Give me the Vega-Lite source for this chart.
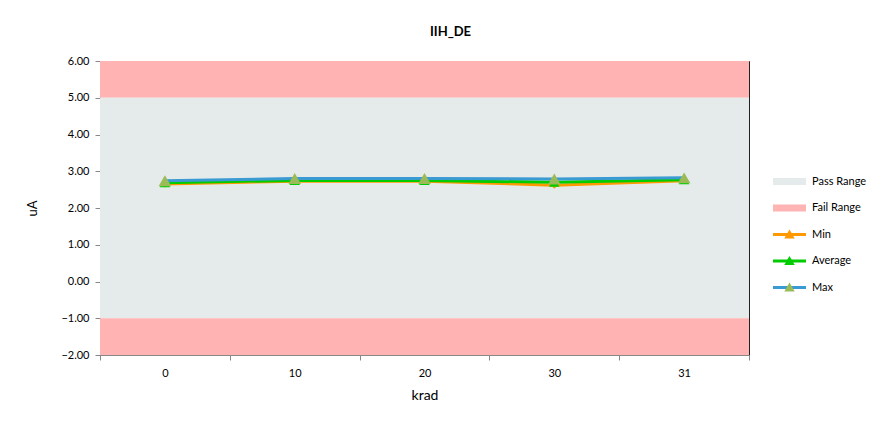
{
  "$schema": "https://vega.github.io/schema/vega-lite/v6.json",
  "width": 649,
  "height": 294,
  "autosize": {"type": "none"},
  "padding": {"left": 100, "top": 61, "right": 141, "bottom": 67},
  "background": "white",
  "config": {
    "font": "Lato",
    "view": {"stroke": "#222", "strokeWidth": 1},
    "axis": {
      "labelFont": "Lato", "titleFont": "Lato", "labelFontSize": 11, "labelColor": "#000",
      "titleColor": "#000", "titleFontWeight": "normal", "tickColor": "#888", "domainColor": "#888",
      "grid": false, "tickSize": 5, "labelOverlap": false
    }
  },
  "title": {"text": "IIH_DE", "font": "Lato", "fontSize": 13, "fontWeight": "bold", "color": "#000", "anchor": "middle", "dx": 26, "offset": 16},
  "datasets": {
    "ranges": [
      {"series": "Fail Range", "lo": 5, "hi": 6},
      {"series": "Pass Range", "lo": -1, "hi": 5},
      {"series": "Fail Range", "lo": -2, "hi": -1}
    ],
    "meas": [
      {"series": "Min", "krad": "0", "value": 2.65},
      {"series": "Min", "krad": "10", "value": 2.73},
      {"series": "Min", "krad": "20", "value": 2.73},
      {"series": "Min", "krad": "30", "value": 2.62},
      {"series": "Min", "krad": "31", "value": 2.74},
      {"series": "Average", "krad": "0", "value": 2.69},
      {"series": "Average", "krad": "10", "value": 2.75},
      {"series": "Average", "krad": "20", "value": 2.75},
      {"series": "Average", "krad": "30", "value": 2.70},
      {"series": "Average", "krad": "31", "value": 2.77},
      {"series": "Max", "krad": "0", "value": 2.74},
      {"series": "Max", "krad": "10", "value": 2.80},
      {"series": "Max", "krad": "20", "value": 2.80},
      {"series": "Max", "krad": "30", "value": 2.79},
      {"series": "Max", "krad": "31", "value": 2.82}
    ]
  },
  "layer": [
    {
      "data": {"name": "ranges"},
      "mark": {"type": "rect"},
      "encoding": {
        "y": {
          "field": "lo", "type": "quantitative",
          "scale": {"domain": [-2, 6], "nice": false, "zero": false},
          "axis": {"values": [-2, -1, 0, 1, 2, 3, 4, 5, 6], "tickCount": 9, "labelOverlap": false, "format": ".2f", "title": "uA", "labelPadding": 6, "titleFontSize": 13, "titlePadding": 21}
        },
        "y2": {"field": "hi"},
        "color": {
          "field": "series", "type": "nominal",
          "scale": {"domain": ["Pass Range", "Fail Range", "Min", "Average", "Max"], "range": ["#E5EBEB", "#FFB3B3", "#FF9900", "#00CC00", "#3A9AD2"]},
          "legend": {
            "orient": "none", "legendX": 684, "legendY": 115, "title": null, "padding": 0,
            "rowPadding": 14.5, "symbolSize": 100, "labelOffset": 17, "labelFont": "Lato", "labelFontSize": 11, "labelColor": "#000",
            "encode": {"symbols": {"update": {
              "shape": {"signal": "indexof(['Pass Range','Fail Range'], datum.value) >= 0 ? 'M-3.3,-0.7H3.3V0.7H-3.3Z' : 'M-3.3,-0.28H3.3V0.28H-3.3Z'"},
              "fill": {"signal": "scale('color', datum.value)"},
              "strokeWidth": {"value": 0},
              "opacity": {"value": 1}
            }}}
          }
        }
      }
    },
    {
      "data": {"name": "meas"},
      "mark": {"type": "line", "strokeWidth": 3},
      "encoding": {
        "x": {
          "field": "krad", "type": "ordinal", "sort": ["0", "10", "20", "30", "31"],
          "scale": {"type": "band", "paddingInner": 0, "paddingOuter": 0},
          "axis": {"title": "krad", "labelAngle": 0, "tickBand": "extent", "labelPadding": 7, "titleFontSize": 14, "titlePadding": 10}
        },
        "y": {"field": "value", "type": "quantitative", "axis": {"values": [-2, -1, 0, 1, 2, 3, 4, 5, 6], "tickCount": 9, "labelOverlap": false, "format": ".2f", "title": "uA", "labelPadding": 6, "titleFontSize": 13, "titlePadding": 21}},
        "color": {"field": "series", "type": "nominal"}
      }
    },
    {
      "data": {"name": "meas"},
      "mark": {"type": "point", "filled": true, "opacity": 1, "strokeWidth": 0, "shape": "diamond", "size": 50},
      "transform": [{"filter": "datum.series == 'Min'"}],
      "encoding": {
        "x": {"field": "krad", "type": "ordinal", "sort": ["0", "10", "20", "30", "31"]},
        "y": {"field": "value", "type": "quantitative", "axis": {"values": [-2, -1, 0, 1, 2, 3, 4, 5, 6], "tickCount": 9, "labelOverlap": false, "format": ".2f", "title": "uA", "labelPadding": 6, "titleFontSize": 13, "titlePadding": 21}},
        "fill": {
          "field": "series", "type": "nominal",
          "scale": {"domain": ["Min", "Average", "Max"], "range": ["#FF9900", "#00CC00", "#9BBB59"]},
          "legend": {
            "orient": "none", "legendX": 684, "legendY": 167.5, "title": null, "padding": 0,
            "rowPadding": 14.5, "symbolSize": 110, "symbolType": "triangle-up", "symbolStrokeWidth": 0, "labelOffset": 17, "labelFontSize": 11, "labelOpacity": 0, "labelExpr": "''",
            "encode": {"symbols": {"update": {
              "shape": {"signal": "datum.value == 'Min' ? 'M0,-0.8L0.8,0L0,0.8L-0.8,0Z' : 'M0,-1.2L1.15,0.9L-1.15,0.9Z'"},
              "strokeWidth": {"value": 0},
              "opacity": {"value": 1}
            }}}
          }
        }
      }
    },
    {
      "data": {"name": "meas"},
      "mark": {"type": "point", "filled": true, "opacity": 1, "strokeWidth": 0, "shape": "triangle-up", "size": 110},
      "transform": [{"filter": "datum.series == 'Average'"}],
      "encoding": {
        "x": {"field": "krad", "type": "ordinal", "sort": ["0", "10", "20", "30", "31"]},
        "y": {"field": "value", "type": "quantitative"},
        "fill": {"field": "series", "type": "nominal"}
      }
    },
    {
      "data": {"name": "meas"},
      "mark": {"type": "point", "filled": true, "opacity": 1, "strokeWidth": 0, "shape": "triangle-up", "size": 160},
      "transform": [{"filter": "datum.series == 'Max'"}],
      "encoding": {
        "x": {"field": "krad", "type": "ordinal", "sort": ["0", "10", "20", "30", "31"]},
        "y": {"field": "value", "type": "quantitative"},
        "fill": {"field": "series", "type": "nominal"}
      }
    }
  ]
}
